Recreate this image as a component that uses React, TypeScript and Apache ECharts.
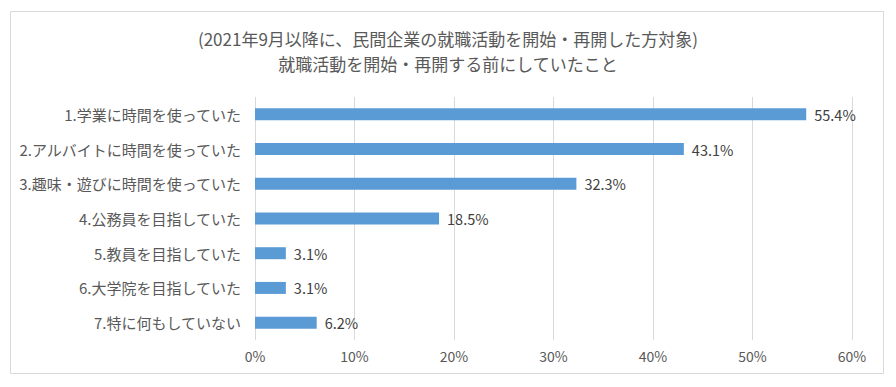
import React, { useEffect, useRef } from "react";
import * as echarts from "echarts";

const titleLines = [
  "(2021年9月以降に、民間企業の就職活動を開始・再開した方対象)",
  "就職活動を開始・再開する前にしていたこと",
];
const categories = [
  "1.学業に時間を使っていた",
  "2.アルバイトに時間を使っていた",
  "3.趣味・遊びに時間を使っていた",
  "4.公務員を目指していた",
  "5.教員を目指していた",
  "6.大学院を目指していた",
  "7.特に何もしていない",
];
const values = [55.4, 43.1, 32.3, 18.5, 3.1, 3.1, 6.2];
const axisMax = 60;
const axisInterval = 10;

const FONT = "'Noto Sans CJK JP', 'Noto Sans', sans-serif";

export default function App() {
  const ref = useRef<HTMLDivElement>(null);
  useEffect(() => {
    if (!ref.current) return;
    const chart = echarts.init(ref.current, null, { renderer: "svg" });
    const titleStyle = {
      fontFamily: FONT,
      fontSize: 17,
      fontWeight: "normal",
      color: "#595959",
      lineHeight: 17,
    };
    chart.setOption({
      animation: false,
      backgroundColor: "#ffffff",
      textStyle: { fontFamily: FONT },
      title: [
        { text: titleLines[0], left: "center", top: 30, padding: 0, textStyle: titleStyle },
        { text: titleLines[1], left: "center", top: 55, padding: 0, textStyle: titleStyle },
      ],
      graphic: [
        {
          type: "rect",
          shape: { x: 10.5, y: 11.5, width: 873, height: 362 },
          style: { fill: "none", stroke: "#D9D9D9", lineWidth: 1 },
          silent: true,
        },
      ],
      grid: { left: 255, right: 44, top: 97, bottom: 47, containLabel: false },
      xAxis: {
        type: "value",
        min: 0,
        max: axisMax,
        interval: axisInterval,
        axisLine: { show: false },
        axisTick: { show: false },
        splitLine: { show: true, lineStyle: { color: "#D9D9D9", width: 1 } },
        axisLabel: {
          formatter: (v: number) => `${v}%`,
          color: "#595959",
          fontSize: 14,
          fontFamily: FONT,
          margin: 9,
        },
      },
      yAxis: {
        type: "category",
        data: categories,
        inverse: true,
        axisLine: { show: false },
        axisTick: { show: false },
        axisLabel: {
          color: "#595959",
          fontSize: 15,
          fontFamily: FONT,
          margin: 14,
        },
      },
      series: [
        {
          type: "bar",
          data: values,
          barWidth: 12,
          itemStyle: { color: "#5B9BD5" },
          label: {
            show: true,
            position: "right",
            distance: 8,
            formatter: (p: any) => `${p.value.toFixed(1)}%`,
            color: "#404040",
            fontSize: 14.5,
            fontFamily: FONT,
          },
        },
      ],
    });
    return () => chart.dispose();
  }, []);
  return (
    <div
      ref={ref}
      style={{ position: "fixed", left: 0, top: 0, width: 896, height: 387 }}
    />
  );
}
